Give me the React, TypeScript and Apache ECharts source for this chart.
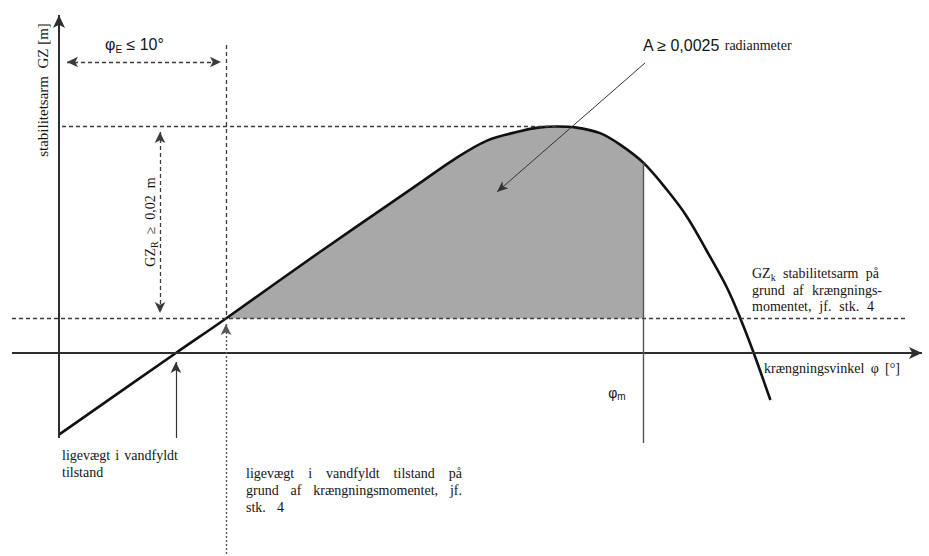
import React, { useEffect, useRef } from "react";
import * as echarts from "echarts";

// ---- Data: righting lever curve (heeling angle φ in degrees, GZ in metres) ----
const phiDeg = [0, 7, 10, 15.6, 19.6, 21.6, 23.6, 25.6, 27.6, 28.8, 29.8, 30.9, 32.4, 33.6, 35, 36.4, 37.6, 38.8, 40, 40.8, 41.6, 42.6];
const gzM = [-0.0085, 0, 0.0036, 0.0105, 0.0153, 0.0177, 0.0201, 0.0221, 0.0231, 0.0235, 0.0236, 0.0235, 0.0229, 0.0217, 0.0198, 0.017, 0.0142, 0.0106, 0.0068, 0.0036, 0, -0.0049];

const PHI_0 = 7; // equilibrium in flooded condition
const PHI_E = 10; // equilibrium with heeling moment
const PHI_PEAK = 29.8;
const PHI_M = 35;
const GZ_K = 0.0036; // heeling lever
const GZ_MAX = 0.0236;
const GZ_AT_PHI_M = 0.0198;

// ---- Texts ----
const Y_TITLE = "stabilitetsarm  GZ [m]";
const X_TITLE = ["krængningsvinkel", "φ", "[°]"];
const LABEL_LEFT = ["ligevægt i vandfyldt", "tilstand"];
const LABEL_MID = ["ligevægt i vandfyldt tilstand på", "grund af krængningsmomentet, jf.", "stk. 4"];
const LABEL_GZK = ["stabilitetsarm på", "grund af krængnings-", "momentet, jf. stk. 4"];

// ---- Layout ----
const W = 929;
const H = 556;
const ORIGIN_X = 59;
const ORIGIN_Y = 353;
const PX_PER_DEG = 16.7;
const PX_PER_M = 9600;
const X = (px: number) => (px - ORIGIN_X) / PX_PER_DEG;
const Y = (py: number) => (ORIGIN_Y - py) / PX_PER_M;

const SERIF = "'Liberation Serif', serif";
const SANS = "'Liberation Sans', sans-serif";
const INK = "#151515";

let mctx: CanvasRenderingContext2D | null = null;
function textWidth(s: string, size: number, family: string) {
  if (!mctx) mctx = document.createElement("canvas").getContext("2d");
  mctx!.font = `${size}px ${family}`;
  return mctx!.measureText(s).width;
}

type Word = { t: string; sub?: string };
const SUB = (size: number) => Math.round(size * 0.72);

function wordEl(w: Word, x: number, y: number, size: number): any {
  if (w.sub) {
    return {
      type: "text",
      x,
      y,
      silent: true,
      style: {
        text: `{a|${w.t}}{b|${w.sub}}`,
        verticalAlign: "middle",
        fill: INK,
        font: `${size}px ${SERIF}`,
        rich: {
          a: { fontSize: size, fontFamily: SERIF, fill: INK, lineHeight: size + 4 },
          b: { fontSize: SUB(size), fontFamily: SERIF, fill: INK, verticalAlign: "bottom", lineHeight: SUB(size) },
        },
      },
    };
  }
  return {
    type: "text",
    x,
    y,
    silent: true,
    style: { text: w.t, font: `${size}px ${SERIF}`, fill: INK, verticalAlign: "middle" },
  };
}

function justify(words: Word[], x: number, y: number, width: number, size: number) {
  const ws = words.map((w) => textWidth(w.t, size, SERIF) + (w.sub ? textWidth(w.sub, SUB(size), SERIF) : 0));
  const total = ws.reduce((a, b) => a + b, 0);
  const gap = words.length > 1 ? (width - total) / (words.length - 1) : 0;
  let cx = x;
  const out: any[] = [];
  words.forEach((w, i) => {
    out.push(wordEl(w, cx, y, size));
    cx += ws[i] + gap;
  });
  return out;
}
const toWords = (s: string): Word[] => s.split(" ").map((t) => ({ t }));

function buildOption(): any {
  const fillPhi: number[][] = [];
  phiDeg.forEach((p, i) => {
    if (p >= PHI_E && p <= PHI_M) fillPhi.push([p, gzM[i]]);
  });
  const curve = phiDeg.map((p, i) => [p, gzM[i]]);

  const dash = { type: [4, 3], color: "#3c3c3c", width: 1.3 };
  const dotted = { type: [2, 2], color: "#555", width: 1.4 };
  const solidThin = { type: "solid", color: "#333", width: 1.2 };
  const axisStyle = { type: "solid", color: "#2e2e2e", width: 2 };

  const seg = (a: number[], b: number[], ls: any, s0: string, s1: string, size?: number[]) => [
    { coord: a, symbol: s0, lineStyle: ls, ...(size ? { symbolSize: size } : {}) },
    { coord: b, symbol: s1, ...(size ? { symbolSize: size } : {}) },
  ];

  const lines = [
    seg([X(12), 0], [X(922), 0], axisStyle, "none", "arrow", [9, 13]),
    seg([0, Y(438)], [0, Y(15)], axisStyle, "none", "arrow", [9, 13]),
    seg([X(62), GZ_MAX], [PHI_PEAK, GZ_MAX], dash, "none", "none"),
    seg([X(12), GZ_K], [X(905), GZ_K], dash, "none", "none"),
    seg([PHI_E, Y(45)], [PHI_E, GZ_K], dash, "none", "none"),
    seg([PHI_E, Y(554)], [PHI_E, Y(324)], dotted, "none", "arrow", [8, 11]),
    seg([X(67), Y(62)], [X(221), Y(62)], dash, "arrow", "arrow", [8, 11]),
    seg([X(160), Y(132)], [X(160), Y(313)], dash, "arrow", "arrow", [8, 11]),
    seg([PHI_0, Y(438)], [PHI_0, Y(362)], solidThin, "none", "arrow", [8, 11]),
    seg([X(645), Y(63)], [X(497), Y(192)], { type: "solid", color: "#333", width: 1 }, "none", "arrow", [7, 11]),
    seg([PHI_M, GZ_AT_PHI_M], [PHI_M, Y(443)], { type: "solid", color: "#555", width: 1.4 }, "none", "none"),
  ];

  const graphic: any[] = [];
  graphic.push({
    type: "text",
    x: 43,
    y: 90,
    rotation: Math.PI / 2,
    silent: true,
    style: { text: Y_TITLE, font: `15px ${SERIF}`, fill: INK, align: "center", verticalAlign: "middle" },
  });
  graphic.push({
    type: "text",
    x: 105,
    y: 44,
    silent: true,
    style: {
      text: "{a|φ}{b|E}{a| ≤ 10°}",
      verticalAlign: "middle",
      fill: INK,
      font: `16px ${SANS}`,
      rich: {
        a: { fontSize: 16, fontFamily: SANS, fill: INK, lineHeight: 20 },
        b: { fontSize: 10, fontFamily: SANS, fill: INK, verticalAlign: "bottom", lineHeight: 12 },
      },
    },
  });
  graphic.push({
    type: "text",
    x: 643,
    y: 45,
    silent: true,
    style: {
      text: "{a|A ≥ 0,0025} {c|radianmeter}",
      verticalAlign: "middle",
      fill: INK,
      font: `16px ${SANS}`,
      rich: {
        a: { fontSize: 16, fontFamily: SANS, fill: INK, lineHeight: 18 },
        c: { fontSize: 14, fontFamily: SERIF, fill: INK, lineHeight: 18 },
      },
    },
  });
  graphic.push({
    type: "text",
    x: 150,
    y: 222,
    rotation: Math.PI / 2,
    silent: true,
    style: {
      text: "{a|GZ}{b|R}{a|  ≥  0,02  m}",
      align: "center",
      verticalAlign: "middle",
      fill: INK,
      font: `14px ${SERIF}`,
      rich: {
        a: { fontSize: 14, fontFamily: SERIF, fill: INK, lineHeight: 18 },
        b: { fontSize: 10, fontFamily: SERIF, fill: INK, verticalAlign: "bottom", lineHeight: 10 },
      },
    },
  });
  graphic.push({
    type: "text",
    x: 617,
    y: 393,
    silent: true,
    style: {
      text: "{a|φ}{b|m}",
      align: "center",
      verticalAlign: "middle",
      fill: INK,
      font: `14px ${SANS}`,
      rich: {
        a: { fontSize: 14, fontFamily: SANS, fill: INK, lineHeight: 16 },
        b: { fontSize: 10, fontFamily: SANS, fill: INK, verticalAlign: "bottom", lineHeight: 12 },
      },
    },
  });

  graphic.push(...justify([{ t: "GZ", sub: "k" }, ...toWords(LABEL_GZK[0])], 752, 273, 127, 14));
  graphic.push(...justify(toWords(LABEL_GZK[1]), 752, 290, 130, 14));
  graphic.push(...justify(toWords(LABEL_GZK[2]), 752, 306, 122, 14));
  graphic.push(...justify(X_TITLE.map((t) => ({ t })), 764, 368, 136, 14));
  graphic.push(...justify(toWords(LABEL_LEFT[0]), 62, 455, 116, 14));
  graphic.push(wordEl({ t: LABEL_LEFT[1] }, 62, 472, 14));
  graphic.push(...justify(toWords(LABEL_MID[0]), 246, 473, 216, 14));
  graphic.push(...justify(toWords(LABEL_MID[1]), 246, 490, 216, 14));
  graphic.push(...justify(toWords(LABEL_MID[2]), 246, 507, 38, 14));

  return {
    animation: false,
    backgroundColor: "#ffffff",
    grid: { left: 0, top: 0, width: W, height: H, containLabel: false },
    xAxis: { type: "value", min: X(0), max: X(W), show: false },
    yAxis: { type: "value", min: Y(H), max: Y(0), show: false },
    series: [
      {
        type: "line",
        name: "A",
        data: fillPhi,
        smooth: 0.35,
        symbol: "none",
        lineStyle: { width: 0, opacity: 0 },
        areaStyle: { color: "#a8a8a8", opacity: 1, origin: GZ_K },
        clip: false,
        silent: true,
        z: 1,
      },
      {
        type: "line",
        name: "annotations",
        data: [],
        symbol: "none",
        clip: false,
        silent: true,
        z: 2,
        markLine: {
          silent: true,
          animation: false,
          label: { show: false },
          emphasis: { disabled: true },
          symbolSize: [8, 11],
          data: lines,
        },
      },
      {
        type: "line",
        name: "GZ",
        data: curve,
        smooth: 0.35,
        symbol: "none",
        lineStyle: { color: "#111", width: 2.6 },
        clip: false,
        silent: true,
        z: 3,
      },
    ],
    graphic,
  };
}

export default function App() {
  const ref = useRef<HTMLDivElement>(null);
  useEffect(() => {
    if (!ref.current) return;
    const chart = echarts.init(ref.current, undefined, { renderer: "svg", width: W, height: H });
    chart.setOption(buildOption());
    return () => chart.dispose();
  }, []);
  return (
    <div
      ref={ref}
      style={{ position: "fixed", left: 0, top: 0, width: W, height: H, background: "#fff" }}
    />
  );
}
